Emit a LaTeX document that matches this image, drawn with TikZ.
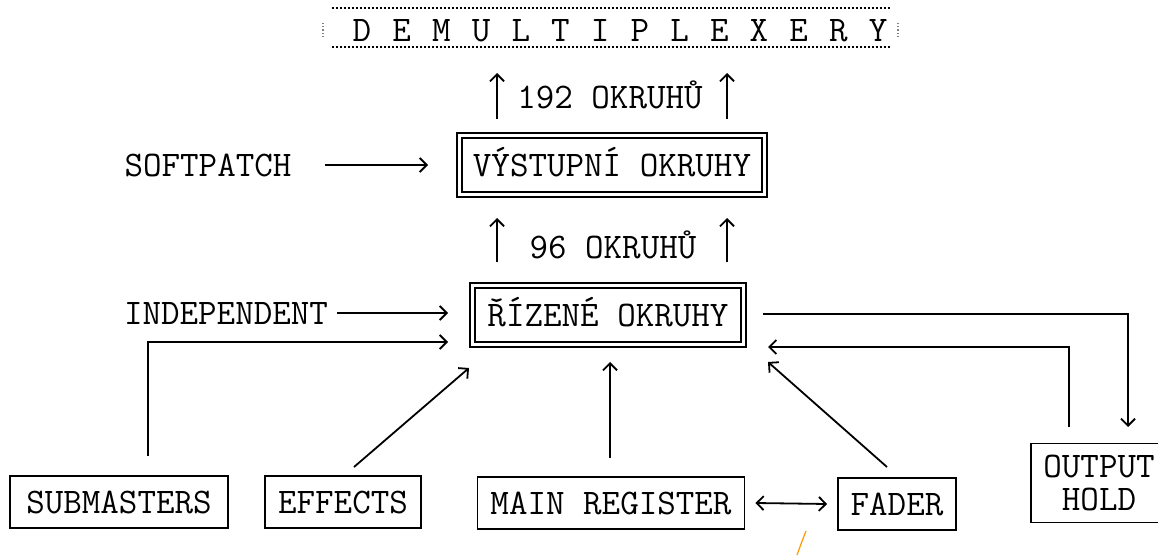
\documentclass[tikz,border=0pt]{standalone}
\usepackage{fontspec}
\usepackage{tikz}
\usetikzlibrary{arrows.meta}

\begin{document}
\begin{tikzpicture}[x=0.5pt,y=-0.5pt,
		every node/.style={font=\fontsize{18}{16.5}\selectfont\ttfamily, inner sep=0pt},
		capline/.style={text height=11pt, text depth=0pt},
		box/.style={draw, line width=0.9pt},
		dbox/.style={draw, double, line width=0.8pt, double distance=1.6pt, minimum height=29.5pt},
		wire/.style={line width=0.9pt},
		flow/.style={line width=0.9pt, -{Straight Barb[length=3.5pt,width=7pt]}},
		flowboth/.style={line width=0.9pt, {Straight Barb[length=3.5pt,width=7pt]}-{Straight Barb[length=3.5pt,width=7pt]}},
		dotrule/.style={line width=1pt, densely dotted}]

		\useasboundingbox (0,0) rectangle (1158,557);

		% Demultiplexer strip at the top
		\node[minimum width=279pt, minimum height=19.5pt] (demux) at (611,27.5) {};
		\draw[dotrule] (demux.north west) -- (demux.north east);
		\draw[dotrule] (demux.south west) -- (demux.south east);
		\draw[densely dotted, gray, line width=0.6pt] (323,23) -- (323,36);
		\draw[densely dotted, gray, line width=0.6pt] (898,23) -- (898,36);
		\foreach \ch [count=\i from 0] in {D,E,M,U,L,T,I,P,L,E,X,E,R,Y}
			\node[capline] (dm\i) at ({362+39.7*\i},30) {\ch};

		% Main boxes
		\node[dbox, capline, minimum width=152.5pt] (vys) at (612,165) {VÝSTUPNÍ OKRUHY};
		\node[dbox, capline, minimum width=135.5pt] (riz) at (608,315) {ŘÍZENÉ OKRUHY};

		% Labels
		\node[capline] (soft) at (208,165) {SOFTPATCH};
		\node[capline] (indep) at (226,313) {INDEPENDENT};
		\node[capline] (n192) at (610,97) {192 OKRUHŮ};
		\node[capline] (n96) at (613,247) {96 OKRUHŮ};

		% Sources at the bottom
		\node[box, capline, minimum width=109pt, minimum height=26pt] (subm) at (119,502) {SUBMASTERS};
		\node[box, capline, minimum width=78pt, minimum height=26pt] (eff) at (343,502) {EFFECTS};
		\node[box, capline, minimum width=133.5pt, minimum height=26pt] (mainreg) at (611,503) {MAIN REGISTER};
		\node[box, capline, minimum width=59pt, minimum height=26pt] (fader) at (897,504) {FADER};
		\node[box, align=center, minimum width=68pt, minimum height=39.5pt] (hold) at (1099,483) {OUTPUT\\HOLD};

		% Explicit coordinates for the arrow ends
		\coordinate (s1) at (497,119);  \coordinate (e1) at (497,73);
		\coordinate (s2) at (727,119);  \coordinate (e2) at (727,73);
		\coordinate (s3) at (497,262);  \coordinate (e3) at (497,218);
		\coordinate (s4) at (727,262);  \coordinate (e4) at (727,218);
		\coordinate (softE) at (325,165);  \coordinate (vysIn) at (428,165);
		\coordinate (indE) at (337,313);   \coordinate (rizA) at (448,313);
		\coordinate (submUp) at (148,456); \coordinate (rizB) at (448,342);
		\coordinate (effUp) at (354,467);  \coordinate (rizC) at (469,368);
		\coordinate (mainUp) at (610,458); \coordinate (rizD) at (610,362);
		\coordinate (faderUp) at (887,467); \coordinate (rizE) at (768,362);
		\coordinate (rizOut) at (763,314); \coordinate (holdIn) at (1128,427);
		\coordinate (holdUp) at (1069,427); \coordinate (rizF) at (768,347);

		% Channels upward
		\draw[flow] (s1) -- (e1);
		\draw[flow] (s2) -- (e2);
		\draw[flow] (s3) -- (e3);
		\draw[flow] (s4) -- (e4);

		% Inputs
		\draw[flow] (softE) -- (vysIn);
		\draw[flow] (indE) -- (rizA);
		\draw[flow] (submUp) |- (rizB);
		\draw[flow] (effUp) -- (rizC);
		\draw[flow] (mainUp) -- (rizD);
		\draw[flow] (faderUp) -- (rizE);
		\draw[flowboth] ([xshift=5pt]mainreg.east) -- ([xshift=-5pt]fader.west);

		% Output hold loop
		\draw[flow] (rizOut) -| (holdIn);
		\draw[flow] (holdUp) |- (rizF);

		% stray pen mark
		\draw[orange!80!yellow, line width=0.6pt] (797,555) .. controls (801,544) .. (806,531);

	\end{tikzpicture}
\end{document}
